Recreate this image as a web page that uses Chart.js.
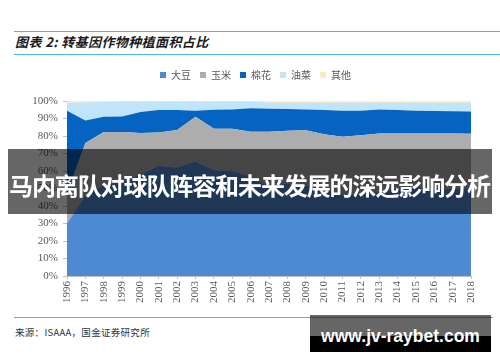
<!DOCTYPE html>
<html>
<head>
<meta charset="utf-8">
<script src="https://cdn.jsdelivr.net/npm/chart.js@4/dist/chart.umd.min.js"></script>
<style>
  html, body { margin: 0; padding: 0; background: #fff; }
  body { width: 500px; height: 362px; position: relative; overflow: hidden; font-family: "Noto Sans CJK SC", sans-serif; }
  .rule { position: absolute; left: 14px; height: 1px; background: #4db6e8; }
  #title { position: absolute; left: 15px; top: 33px; font-size: 13px; font-weight: bold; font-style: italic; color: #1a1a1a; letter-spacing: 0.4px; line-height: 18px; white-space: nowrap; }
  #source { position: absolute; left: 15px; top: 325px; font-size: 9.5px; color: #333; line-height: 14px; white-space: nowrap; letter-spacing: 0.3px; }
  #chartBox { position: absolute; left: 0; top: 61px; width: 500px; height: 250px; }
  #banner { position: absolute; left: 8px; top: 149px; width: 484px; height: 65px; background: rgba(0,0,0,0.6); z-index: 5; }
  #bannerText { position: absolute; left: 9px; top: 170px; width: 490px; text-align: left; font-size: 24px; letter-spacing: -1.1px; font-weight: bold; color: #fff; line-height: 30px; white-space: nowrap; z-index: 6; font-family: "Noto Sans CJK SC", sans-serif; }
  #wm { position: absolute; left: 310px; top: 315px; width: 181px; height: 37px; background: rgba(0,0,0,0.6); z-index: 5; }
  #wmDark { position: absolute; left: 310px; top: 336px; width: 181px; height: 16px; background: #000; z-index: 5; }
  #wmText { position: absolute; left: 310px; top: 323px; width: 181px; text-align: center; font-family: "Liberation Sans", Arial, sans-serif; font-weight: bold; font-size: 17.5px; line-height: 26px; color: #fff; z-index: 6; white-space: nowrap; }
</style>
</head>
<body>
<div class="rule" style="top:31px; width:486px;"></div>
<div id="title">图表 2: 转基因作物种植面积占比</div>
<div class="rule" style="top:54px; width:486px;"></div>
<div id="chartBox"><canvas id="c" width="500" height="250"></canvas></div>
<div class="rule" style="top:317px; width:479px;"></div>
<div id="source">来源：ISAAA，国金证券研究所</div>
<div id="banner"></div>
<div id="bannerText">马内离队对球队阵容和未来发展的深远影响分析</div>
<div id="wm"></div>
<div id="wmDark"></div>
<div id="wmText">www.jv-raybet.com</div>
<script>
const years = ['1996','1997','1998','1999','2000','2001','2002','2003','2004','2005','2006','2007','2008','2009','2010','2011','2012','2013','2014','2015','2016','2017','2018'];
const soybean = [30, 46, 52, 54, 58, 63, 62, 65.5, 60.5, 60, 57, 51, 53, 52, 50, 47, 47, 48, 50, 51, 49, 50, 50];
const maize   = [17, 30, 30.3, 28.3, 23.7, 19, 21.4, 25.5, 23.7, 24.2, 25.5, 31.5, 30, 31.3, 31, 32.6, 33.4, 33.5, 31.5, 30.5, 32.5, 31.5, 31.3];
const cotton  = [47.5, 12.8, 8.7, 8.9, 12, 12.9, 11.5, 3.5, 10.8, 11, 13.3, 13.1, 12.4, 11.9, 13.9, 14.9, 14.1, 13.7, 13.4, 13, 12.8, 12.6, 12.7];
const canola  = [4.5, 10.4, 8.5, 8.6, 6.1, 4.9, 4.9, 5.3, 4.8, 4.6, 4.0, 3.4, 3.6, 3.8, 4.1, 4.5, 4.5, 3.8, 4.1, 4.5, 4.7, 4.9, 5.0];
const other   = [1, 0.8, 0.5, 0.2, 0.2, 0.2, 0.2, 0.2, 0.2, 0.2, 0.2, 1, 1, 1, 1, 1, 1, 1, 1, 1, 1, 1, 1];
const seriesNames = ['大豆', '玉米', '棉花', '油菜', '其他'];
const seriesColors = ['#4e8ad4', '#adadad', '#0563c1', '#c0e5fa', '#fde8c4'];
const yTicks = [0, 10, 20, 30, 40, 50, 60, 70, 80, 90, 100];

const seriesData = [soybean, maize, cotton, canola, other];

const legendGap = {
  id: 'legendGap',
  beforeUpdate(chart) {
    const lg = chart.legend;
    if (lg && !lg._gapPatched) {
      const f = lg.fit;
      lg.fit = function () { f.call(this); this.height += 11; };
      lg._gapPatched = true;
    }
  },
  afterLayout(chart) {
    if (chart.legend) { chart.legend.left = 40; }
  }
};

new Chart(document.getElementById('c'), {
  type: 'line',
  data: {
    labels: years,
    datasets: seriesData.map((d, i) => ({
      label: seriesNames[i],
      data: d,
      backgroundColor: seriesColors[i],
      borderColor: seriesColors[i],
      borderWidth: 0,
      pointRadius: 0,
      tension: 0,
      fill: i === 0 ? 'origin' : '-1'
    }))
  },
  options: {
    responsive: false,
    animation: false,
    devicePixelRatio: 1,
    layout: { padding: { left: 0, right: 29, top: 0, bottom: 0 } },
    plugins: {
      tooltip: { enabled: false },
      legend: {
        position: 'top',
        align: 'center',
        labels: {
          boxWidth: 6,
          boxHeight: 6,
          padding: 9,
          color: '#595959',
          font: { family: '"Noto Sans CJK SC", sans-serif', size: 10 }
        }
      }
    },
    scales: {
      x: {
        stacked: true,
        offset: false,
        grid: { display: true, drawOnChartArea: false, drawTicks: true, tickLength: 3, color: '#bfbfbf' },
        border: { display: true, color: '#bfbfbf' },
        ticks: {
          autoSkip: false,
          maxRotation: 90,
          minRotation: 90,
          padding: 2,
          color: '#595959',
          font: { family: '"Liberation Serif", serif', size: 11 }
        },
        afterFit(scale) { scale.height = 35; }
      },
      y: {
        stacked: true,
        min: 0,
        max: 100,
        afterBuildTicks(scale) { scale.ticks = yTicks.map(v => ({ value: v })); },
        grid: { display: true, drawOnChartArea: false, drawTicks: true, tickLength: 4, color: '#bfbfbf' },
        border: { display: true, color: '#bfbfbf' },
        ticks: {
          padding: 5,
          color: '#595959',
          font: { family: '"Liberation Serif", serif', size: 11 },
          callback: v => v + '%'
        },
        afterFit(scale) { scale.width = 67; }
      }
    }
  },
  plugins: [legendGap]
});
</script>
</body>
</html>
